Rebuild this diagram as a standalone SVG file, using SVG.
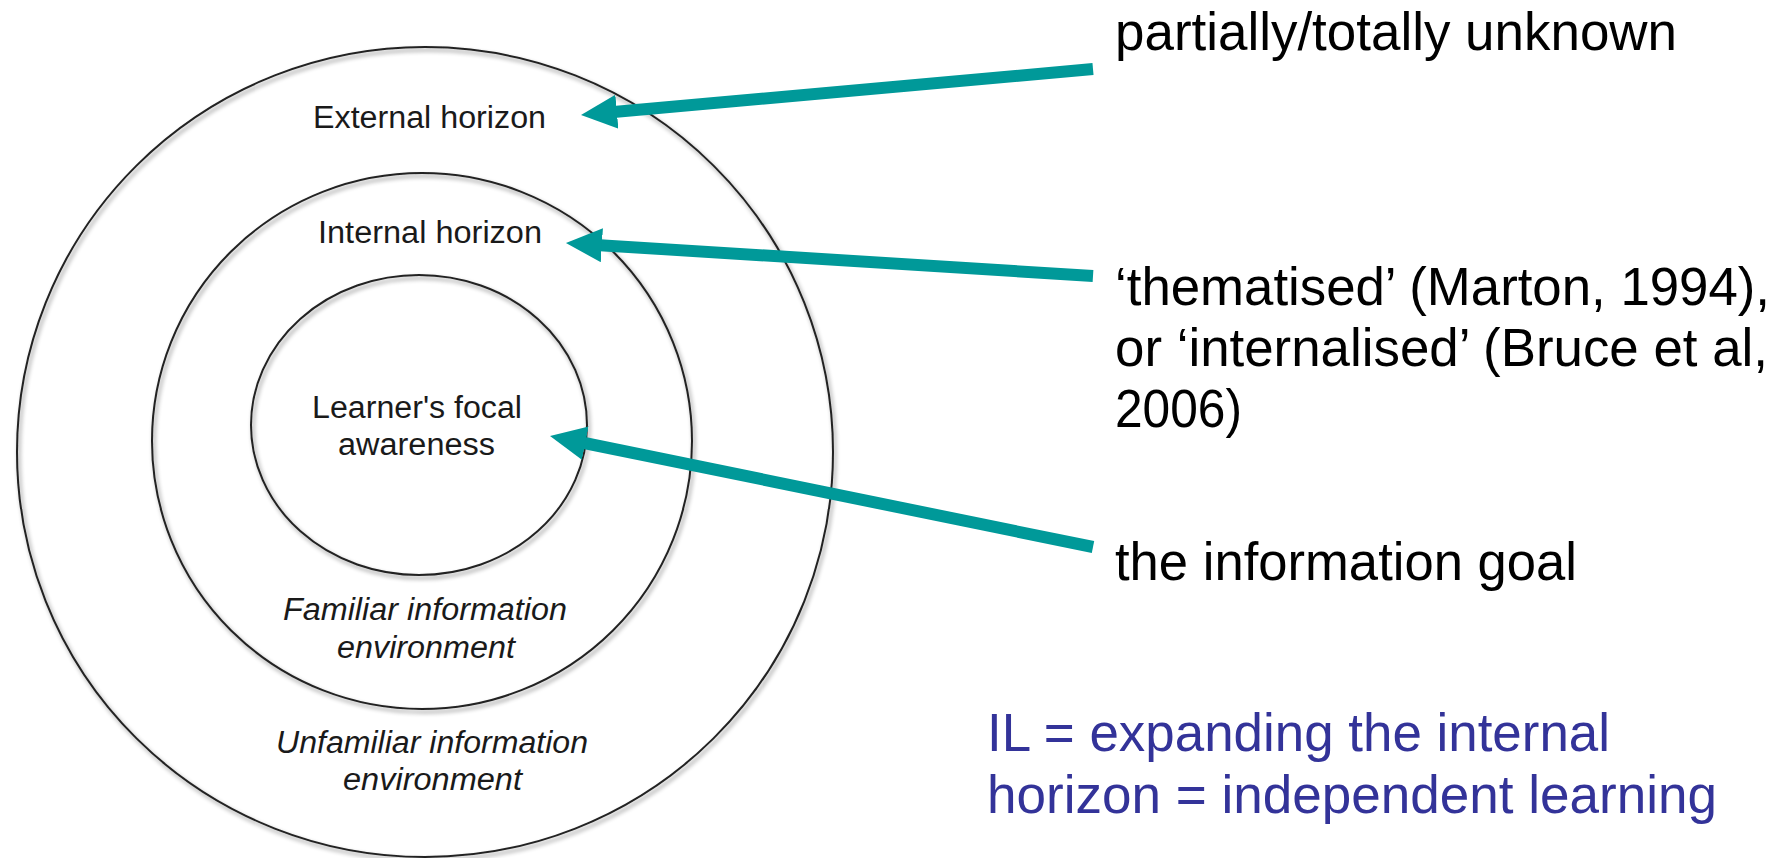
<svg xmlns="http://www.w3.org/2000/svg" width="1786" height="858" viewBox="0 0 1786 858">
  <defs>
    <filter id="shadow" x="-5%" y="-5%" width="110%" height="110%">
      <feDropShadow dx="2" dy="3" stdDeviation="2" flood-color="#000" flood-opacity="0.45"/>
    </filter>
    <marker id="head" markerUnits="userSpaceOnUse" markerWidth="40" markerHeight="36" refX="6" refY="17" orient="auto">
      <path d="M0,0 L36,17 L0,34 z" fill="#009999"/>
    </marker>
  </defs>
  <style>
    .ring { fill: none; stroke: #222; stroke-width: 2; }
    .lbl { font-family: "Liberation Sans", Arial, Helvetica, sans-serif; font-size: 31px; fill: #1a1a1a; }
    .it { font-style: italic; }
    .note { font-family: "Liberation Sans", Arial, Helvetica, sans-serif; font-size: 54px; fill: #000; }
    .blue { font-family: "Liberation Sans", Arial, Helvetica, sans-serif; font-size: 53px; fill: #333399; }
    .arrow { fill: none; stroke: #009999; stroke-width: 12; marker-end: url(#head); }
  </style>
  <rect width="1786" height="858" fill="#fff"/>

  <g id="outer-ring" filter="url(#shadow)">
    <ellipse class="ring" cx="425" cy="452" rx="408" ry="405"/>
  </g>
  <g id="middle-ring" filter="url(#shadow)">
    <ellipse class="ring" cx="422" cy="441" rx="270" ry="268"/>
  </g>
  <g id="inner-ring" filter="url(#shadow)">
    <ellipse class="ring" cx="419" cy="425" rx="168" ry="150"/>
  </g>

  <g id="label-external">
    <text class="lbl" x="313" y="128" textLength="233" lengthAdjust="spacingAndGlyphs">External horizon</text>
  </g>
  <g id="label-internal">
    <text class="lbl" x="318" y="243" textLength="224" lengthAdjust="spacingAndGlyphs">Internal horizon</text>
  </g>
  <g id="label-focal">
    <text class="lbl" x="312" y="418" textLength="210" lengthAdjust="spacingAndGlyphs">Learner's focal</text>
    <text class="lbl" x="338" y="455" textLength="157" lengthAdjust="spacingAndGlyphs">awareness</text>
  </g>
  <g id="label-familiar">
    <text class="lbl it" x="283" y="620" textLength="284" lengthAdjust="spacingAndGlyphs">Familiar information</text>
    <text class="lbl it" x="337" y="658" textLength="178" lengthAdjust="spacingAndGlyphs">environment</text>
  </g>
  <g id="label-unfamiliar">
    <text class="lbl it" x="276" y="753" textLength="312" lengthAdjust="spacingAndGlyphs">Unfamiliar information</text>
    <text class="lbl it" x="343" y="790" textLength="179" lengthAdjust="spacingAndGlyphs">environment</text>
  </g>

  <g id="connectors">
    <line class="arrow" x1="1093" y1="69" x2="610.9" y2="112.3"/>
    <line class="arrow" x1="1093" y1="276" x2="595.9" y2="244.9"/>
    <line class="arrow" x1="1093" y1="547" x2="579.4" y2="442"/>
  </g>

  <g id="note-unknown">
    <text class="note" x="1115" y="50" textLength="562" lengthAdjust="spacingAndGlyphs">partially/totally unknown</text>
  </g>
  <g id="note-thematised">
    <text class="note" x="1115" y="305" textLength="655" lengthAdjust="spacingAndGlyphs">‘thematised’ (Marton, 1994),</text>
    <text class="note" x="1115" y="366" textLength="653" lengthAdjust="spacingAndGlyphs">or ‘internalised’ (Bruce et al,</text>
    <text class="note" x="1115" y="427" textLength="127" lengthAdjust="spacingAndGlyphs">2006)</text>
  </g>
  <g id="note-goal">
    <text class="note" x="1115" y="580" textLength="462" lengthAdjust="spacingAndGlyphs">the information goal</text>
  </g>
  <g id="note-il">
    <text class="blue" x="987" y="751" textLength="623" lengthAdjust="spacingAndGlyphs">IL = expanding the internal</text>
    <text class="blue" x="987" y="813" textLength="730" lengthAdjust="spacingAndGlyphs">horizon = independent learning</text>
  </g>
</svg>
